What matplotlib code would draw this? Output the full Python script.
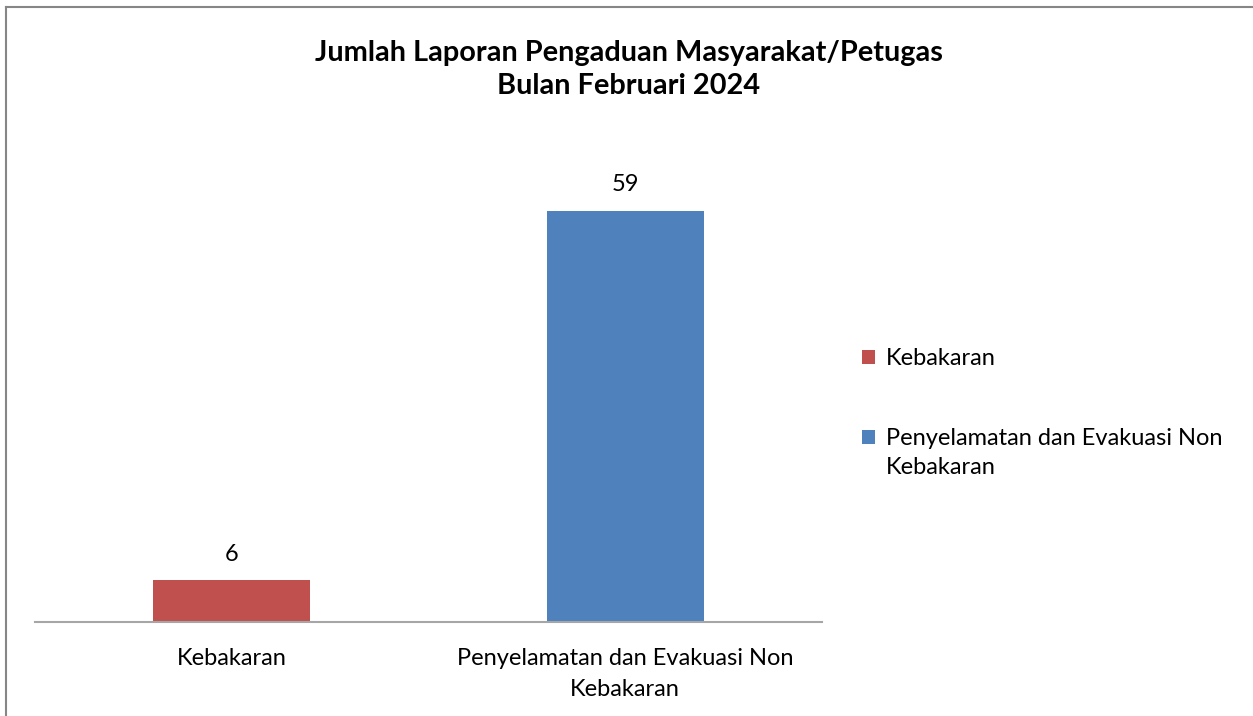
import matplotlib.pyplot as plt
from matplotlib.lines import Line2D
from matplotlib.patches import Rectangle

categories = ["Kebakaran", "Penyelamatan dan Evakuasi Non\nKebakaran"]
values = [6, 59]
colors = ["#C0504D", "#4F81BD"]
title = "Jumlah Laporan Pengaduan Masyarakat/Petugas\nBulan Februari 2024"

plt.rcParams['font.family'] = ['Lato', 'DejaVu Sans']

fig = plt.figure(figsize=(12.53, 7.16), dpi=100)
ax = fig.add_axes([35/1253, 94/716, 787/1253, 488/716])

x = range(len(categories))
ax.bar(x, values, width=0.4, color=colors, zorder=2)
for xi, v in zip(x, values):
    ax.annotate(str(v), (xi, v), xytext=(0, 11), textcoords='offset points',
                ha='center', va='bottom', fontsize=17, color='#000000')

ax.set_xlim(-0.5, 1.5)
ax.set_ylim(0, 70)
ax.set_xticks(list(x))
ax.set_xticklabels(categories, fontsize=17, linespacing=1.55)
ax.tick_params(axis='x', length=0, pad=19)
ax.set_yticks([])
for side in ['top', 'right', 'left']:
    ax.spines[side].set_visible(False)
ax.spines['bottom'].set_color('#A6A6A6')
ax.spines['bottom'].set_linewidth(1.5)

fig.text(629/1253, 1 - 69.5/716, title, ha='center', va='center',
         fontsize=20.8, fontweight='bold', linespacing=1.31)

# legend on the right, square aligned with first text line
legend_y = [357, 437]
for c, lab, y in zip(colors, categories, legend_y):
    fig.add_artist(Rectangle((862/1253, 1 - (y + 7)/716), 13/1253, 14/716,
                             transform=fig.transFigure, facecolor=c, edgecolor='none'))
    fig.text(886/1253, 1 - (y - 9)/716, lab, ha='left', va='top',
             fontsize=17, linespacing=1.5)

# outer chart border (top and left visible)
fig.add_artist(Line2D([6/1253, 6/1253], [0, 1 - 7/716], transform=fig.transFigure,
                      color='#868686', lw=1.5))
fig.add_artist(Line2D([6/1253, 1], [1 - 7/716, 1 - 7/716], transform=fig.transFigure,
                      color='#868686', lw=1.5))

fig.savefig("out.png", dpi=100)
